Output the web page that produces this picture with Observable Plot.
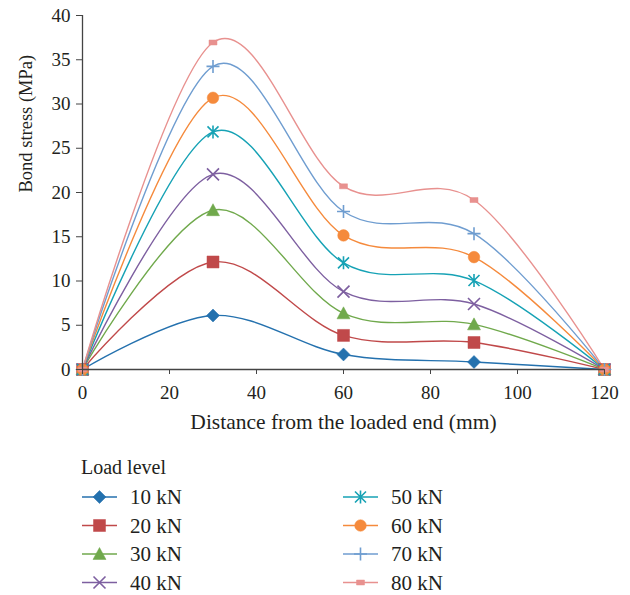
<!DOCTYPE html>
<html>
<head>
<meta charset="utf-8">
<script src="https://cdn.jsdelivr.net/npm/d3@7"></script>
<script src="https://cdn.jsdelivr.net/npm/@observablehq/plot@0.6"></script>
<style>
  html, body { margin: 0; padding: 0; background: #fff; }
  #chart { width: 630px; }
  svg { display: block; }
  #chart svg text { font-family: 'Liberation Serif', 'DejaVu Serif', serif; }
</style>
</head>
<body>
<div id="chart"></div>
<script>
// ---- data ----
const distances = [0, 30, 60, 90, 120];
const loadLevels = ["10kN", "20kN", "30kN", "40kN", "50kN", "60kN", "70kN", "80kN"];
const stress10 = [0, 6.1, 1.7, 0.85, 0];
const stress20 = [0, 12.15, 3.85, 3.05, 0];
const stress30 = [0, 18.0, 6.35, 5.1, 0];
const stress40 = [0, 22.05, 8.8, 7.4, 0];
const stress50 = [0, 26.85, 12.05, 10.05, 0];
const stress60 = [0, 30.7, 15.15, 12.7, 0];
const stress70 = [0, 34.25, 17.85, 15.35, 0];
const stress80 = [0, 36.95, 20.7, 19.15, 0];
const seriesValues = [stress10, stress20, stress30, stress40, stress50, stress60, stress70, stress80];
const xTicks = [0, 20, 40, 60, 80, 100, 120];
const yTicks = [0, 5, 10, 15, 20, 25, 30, 35, 40];
const xTitle = "Distance from the loaded end (mm)";
const yTitle = "Bond stress (MPa)";
const legendTitle = "Load level";

// ---- styles ----
const colors = ["#2471ae", "#c0494a", "#70a94c", "#7d5fa0", "#16a2b5", "#f58a3c", "#6f9dd0", "#e8918f"];
const symDiamond = {draw(c) { c.moveTo(0, -6.5); c.lineTo(6.5, 0); c.lineTo(0, 6.5); c.lineTo(-6.5, 0); c.closePath(); }};
const symSquare = {draw(c) { c.moveTo(-6, -6); c.lineTo(6, -6); c.lineTo(6, 6); c.lineTo(-6, 6); c.closePath(); }};
const symTriangle = {draw(c) { c.moveTo(0, -6.5); c.lineTo(6.5, 5.5); c.lineTo(-6.5, 5.5); c.closePath(); }};
const symTimes = {draw(c) { c.moveTo(-6, -6); c.lineTo(6, 6); c.moveTo(6, -6); c.lineTo(-6, 6); }};
const symAsterisk = {draw(c) { c.moveTo(-5.5, -5.5); c.lineTo(5.5, 5.5); c.moveTo(5.5, -5.5); c.lineTo(-5.5, 5.5); c.moveTo(0, -6.5); c.lineTo(0, 6.5); }};
const symCircle = {draw(c) { c.moveTo(5.8, 0); c.arc(0, 0, 5.8, 0, 2 * Math.PI); c.closePath(); }};
const symPlus = {draw(c) { c.moveTo(-6.5, 0); c.lineTo(6.5, 0); c.moveTo(0, -6.5); c.lineTo(0, 6.5); }};
const symDash = {draw(c) { c.moveTo(-4, -2.5); c.lineTo(4, -2.5); c.lineTo(4, 2.5); c.lineTo(-4, 2.5); c.closePath(); }};
const symbols = [symDiamond, symSquare, symTriangle, symTimes, symAsterisk, symCircle, symPlus, symDash];
const filled = [true, true, true, false, false, true, false, true];

const rows = [];
loadLevels.forEach((lv, i) => distances.forEach((d, j) => rows.push({level: lv, idx: i, x: d, y: seriesValues[i][j]})));

const font = "'Liberation Serif', 'DejaVu Serif', serif";
const ink = "#231f20";

const marks = [];
loadLevels.forEach((lv, i) => {
  const data = rows.filter(r => r.idx === i);
  marks.push(Plot.line(data, {x: "x", y: "y", stroke: colors[i], strokeWidth: 1.4, curve: "cardinal"}));
});
loadLevels.forEach((lv, i) => {
  const data = rows.filter(r => r.idx === i);
  marks.push(Plot.dot(data, {
    x: "x", y: "y", symbol: symbols[i], r: 4,
    fill: filled[i] ? colors[i] : "none",
    stroke: colors[i], strokeWidth: filled[i] ? 0.5 : 1.6
  }));
});

const plot = Plot.plot({
  width: 630,
  height: 440,
  marginLeft: 82,
  marginRight: 26,
  marginTop: 15,
  marginBottom: 71,
  style: {fontFamily: font, fontSize: "18px", color: ink, background: "#fff"},
  x: {domain: [0, 120], label: null},
  y: {domain: [0, 40], label: null},
  marks: [
    ...marks,
    Plot.ruleX([0], {stroke: "#444", strokeWidth: 1.3}),
    Plot.ruleY([0], {stroke: "#444", strokeWidth: 1.3}),
    Plot.axisX({ticks: xTicks, tickSize: 5, tickPadding: 11, stroke: "#444", fill: ink, fontSize: 19, fontFamily: font, label: null}),
    Plot.axisY({ticks: yTicks, tickSize: 6, tickPadding: 6, stroke: "#444", fill: ink, fontSize: 19, fontFamily: font, label: null}),
    Plot.text([xTitle], {frameAnchor: "bottom", dy: 59, fontSize: 21.5, fontFamily: font, fill: ink}),
    Plot.text([yTitle], {frameAnchor: "left", dx: -56, rotate: -90, fontSize: 18.5, fontFamily: font, fill: ink})
  ]
});
document.getElementById("chart").appendChild(plot);

// ---- legend (below the plot) ----
const leg = d3.select("#chart").append("svg")
  .attr("width", 630).attr("height", 155)
  .style("font-family", font);
leg.append("text").attr("x", 81).attr("y", 27).attr("dy", "0.35em")
  .attr("font-size", 20).attr("fill", ink).text(legendTitle);
loadLevels.forEach((lv, i) => {
  const col = Math.floor(i / 4), row = i % 4;
  const x0 = col === 0 ? 82 : 343;
  const y0 = 57 + row * 28.5;
  const g = leg.append("g");
  g.append("line").attr("x1", x0).attr("x2", x0 + 35).attr("y1", y0).attr("y2", y0)
    .attr("stroke", colors[i]).attr("stroke-width", 1.4);
  g.append("path").attr("transform", `translate(${x0 + 17.5},${y0})`)
    .attr("d", d3.symbol(symbols[i])())
    .attr("fill", filled[i] ? colors[i] : "none")
    .attr("stroke", colors[i]).attr("stroke-width", filled[i] ? 0.5 : 1.6);
  g.append("text").attr("x", x0 + 48).attr("y", y0).attr("dy", "0.35em")
    .attr("font-size", 21).attr("fill", ink).text(lv.replace("kN", " kN"));
});
</script>
</body>
</html>
